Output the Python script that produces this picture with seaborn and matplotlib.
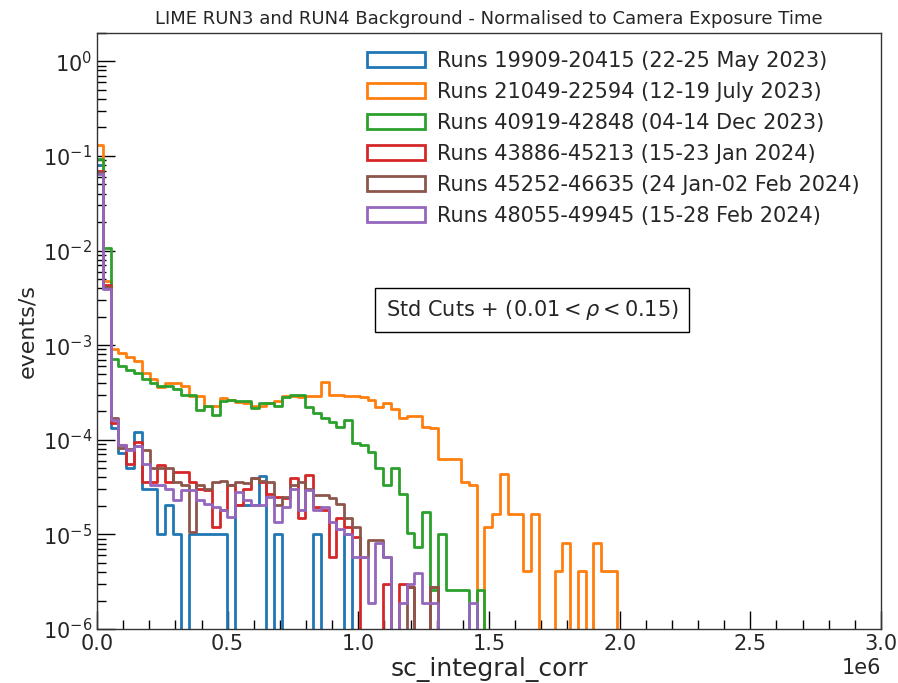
import numpy as np
import pandas as pd
import matplotlib
matplotlib.use("Agg")
import matplotlib.pyplot as plt
import seaborn as sns
from matplotlib.patches import Patch
from matplotlib.ticker import AutoMinorLocator, LogLocator

# ---------------- data (events/s per bin) ----------------
bin_start = -7300.0
bin_width = 29800.0
n_bins = 100

labels = [
    "Runs 19909-20415 (22-25 May 2023)",
    "Runs 21049-22594 (12-19 July 2023)",
    "Runs 40919-42848 (04-14 Dec 2023)",
    "Runs 43886-45213 (15-23 Jan 2024)",
    "Runs 45252-46635 (24 Jan-02 Feb 2024)",
    "Runs 48055-49945 (15-28 Feb 2024)",
]
colors = ["#1f77b4", "#ff7f0e", "#2ca02c", "#d62728", "#8c564b", "#9467bd"]

blue = [0.081, 0.0042, 1.32e-4, 7.2e-5, 5.0e-5, 1.2e-4, 3.05e-5, 3.05e-5, 1.0e-5, 2.04e-5,
        1.0e-5, 0, 1.0e-5, 1.0e-5, 1.0e-5, 1.0e-5, 1.0e-5, 0, 2.04e-5, 2.04e-5,
        2.04e-5, 4.1e-5, 0, 1.0e-5, 0, 0, 0, 0, 1.0e-5, 0,
        0, 0, 1.0e-5]
orange = [0.13, 0.0048, 9.1e-4, 8.3e-4, 7.5e-4, 6.8e-4, 5.1e-4, 4.4e-4, 3.6e-4, 4.0e-4,
          4.0e-4, 3.67e-4, 2.9e-4, 2.9e-4, 2.3e-4, 2.3e-4, 2.75e-4, 2.65e-4, 2.5e-4, 2.45e-4,
          2.3e-4, 2.3e-4, 2.45e-4, 2.55e-4, 2.9e-4, 2.9e-4, 2.85e-4, 2.9e-4, 2.9e-4, 4.1e-4,
          3.0e-4, 3.0e-4, 2.9e-4, 2.9e-4, 2.85e-4, 2.65e-4, 2.2e-4, 2.45e-4, 2.1e-4, 1.7e-4,
          1.8e-4, 1.8e-4, 1.38e-4, 1.33e-4, 6.2e-5, 6.2e-5, 6.2e-5, 3.6e-5, 3.3e-5, 0,
          1.2e-5, 1.65e-5, 4.4e-5, 1.65e-5, 1.65e-5, 4.1e-6, 1.65e-5, 0, 0, 4.1e-6,
          8.1e-6, 0, 4.1e-6, 0, 8.1e-6, 4.1e-6, 4.1e-6]
green = [0.092, 0.0107, 7.2e-4, 6.0e-4, 5.5e-4, 5.1e-4, 4.4e-4, 4.0e-4, 3.67e-4, 3.67e-4,
         3.4e-4, 3.0e-4, 3.0e-4, 2.05e-4, 2.25e-4, 1.85e-4, 2.55e-4, 2.65e-4, 2.6e-4, 2.6e-4,
         2.15e-4, 2.45e-4, 2.45e-4, 2.3e-4, 2.8e-4, 3.0e-4, 3.0e-4, 2.2e-4, 1.9e-4, 1.7e-4,
         1.56e-4, 1.38e-4, 1.63e-4, 9.2e-5, 8.9e-5, 7.5e-5, 5.0e-5, 3.3e-5, 5.0e-5, 2.7e-5,
         1.03e-5, 7.4e-6, 1.74e-5, 2.6e-6, 1.0e-5, 2.6e-6, 2.6e-6, 2.6e-6, 0, 2.6e-6]
red = [0.070, 0.0043, 1.5e-4, 8.8e-5, 5.6e-5, 9.5e-5, 3.6e-5, 3.6e-5, 5.4e-5, 3.6e-5,
       4.6e-5, 4.6e-5, 3.6e-5, 3.05e-5, 2.95e-5, 1.2e-5, 1.8e-5, 3.3e-5, 2.04e-5, 3.05e-5,
       3.9e-5, 3.6e-5, 2.7e-5, 2.5e-5, 2.4e-5, 3.9e-5, 1.48e-5, 4.2e-5, 1.96e-5, 1.8e-5,
       5.8e-6, 1.5e-5, 1.2e-5, 9.5e-6, 0, 0, 0, 3.0e-6, 0, 3.0e-6,
       2.8e-6, 0, 0, 2.8e-6]
brown = [0.068, 0.0041, 1.7e-4, 8.2e-5, 8.0e-5, 8.5e-5, 7.8e-5, 5.0e-5, 5.0e-5, 5.0e-5,
         3.6e-5, 3.3e-5, 1.07e-5, 3.3e-5, 3.05e-5, 3.6e-5, 3.7e-5, 3.3e-5, 3.6e-5, 3.5e-5,
         3.9e-5, 3.7e-5, 3.6e-5, 2.04e-5, 2.5e-5, 3.3e-5, 3.6e-5, 3.05e-5, 2.6e-5, 2.6e-5,
         2.4e-5, 2.1e-5, 1.5e-5, 1.2e-5, 5.8e-6, 8.7e-6, 8.7e-6, 5.8e-6, 0, 0,
         2.8e-6, 0, 0, 2.8e-6]
purple = [0.065, 0.0039, 1.6e-4, 8.9e-5, 7.8e-5, 8.5e-5, 5.6e-5, 3.3e-5, 3.3e-5, 3.05e-5,
          2.3e-5, 2.95e-5, 2.95e-5, 2.3e-5, 2.1e-5, 1.96e-5, 1.8e-5, 1.53e-5, 2.8e-5, 2.3e-5,
          2.04e-5, 2.04e-5, 2.5e-5, 1.36e-5, 1.96e-5, 3.05e-5, 1.8e-5, 2.95e-5, 1.8e-5, 1.96e-5,
          1.36e-5, 1.15e-5, 1.02e-5, 5.8e-6, 5.8e-6, 1.9e-6, 8.1e-6, 5.8e-6, 0, 1.9e-6,
          3.0e-6, 3.9e-6, 1.9e-6, 1.9e-6, 0, 0, 0, 0, 1.9e-6]

series = [blue, orange, green, red, brown, purple]

title = "LIME RUN3 and RUN4 Background - Normalised to Camera Exposure Time"
xlabel = "sc_integral_corr"
ylabel = "events/s"
cut_text = r"Std Cuts + (0.01$<\rho<$0.15)"

# ---------------- plotting ----------------
sns.set_style("white")
plt.rcParams["font.family"] = ["DejaVu Sans"]
plt.rcParams["mathtext.fontset"] = "dejavusans"

edges = bin_start + bin_width * np.arange(n_bins + 1)
centers = 0.5 * (edges[:-1] + edges[1:])
edge_list = [float(e) for e in edges]

fig = plt.figure(figsize=(8.98, 6.83), dpi=100)
ax = fig.add_axes([0.108, 0.079, 0.873, 0.873])

handles = []
for vals, lab, col in zip(series, labels, colors):
    df = pd.DataFrame({"x": centers[:len(vals)], "w": vals})
    sns.histplot(data=df, x="x", weights="w", bins=edge_list, element="step",
                 fill=False, color=col, linewidth=2.0, ax=ax, stat="count")
    handles.append(Patch(facecolor="none", edgecolor=col, linewidth=2.0, label=lab))

ax.set_yscale("log")
ax.set_xlim(0, 3.0e6)
ax.set_ylim(1e-6, 2.0)

ax.set_title(title, fontsize=13)
ax.set_xlabel(xlabel, fontsize=18, labelpad=2)
ax.set_ylabel(ylabel, fontsize=16)

ax.xaxis.set_minor_locator(AutoMinorLocator(5))
ax.yaxis.set_major_locator(LogLocator(base=10, numticks=20))
ax.yaxis.set_minor_locator(LogLocator(base=10, subs=np.arange(2, 10), numticks=100))
ax.tick_params(axis="both", which="both", direction="in", bottom=True, left=True,
               top=False, right=False, labelsize=15, color="black")
ax.tick_params(axis="both", which="major", length=13, width=1.0)
ax.tick_params(axis="both", which="minor", length=6.5, width=1.0)
ax.xaxis.get_offset_text().set_fontsize(15)

for s in ax.spines.values():
    s.set_color("#333333")
    s.set_linewidth(1.0)

ax.legend(handles=handles, loc="upper right", bbox_to_anchor=(0.984, 0.984),
          frameon=False, fontsize=15, handlelength=2.8, handleheight=0.7,
          handletextpad=0.6, labelspacing=0.53, borderaxespad=0.0)

ax.text(0.555, 0.535, cut_text, transform=ax.transAxes, ha="center", va="center",
        fontsize=15, bbox=dict(boxstyle="square,pad=0.5", facecolor="white",
                               edgecolor="black", linewidth=1.0))

fig.savefig("out.png", dpi=100)
